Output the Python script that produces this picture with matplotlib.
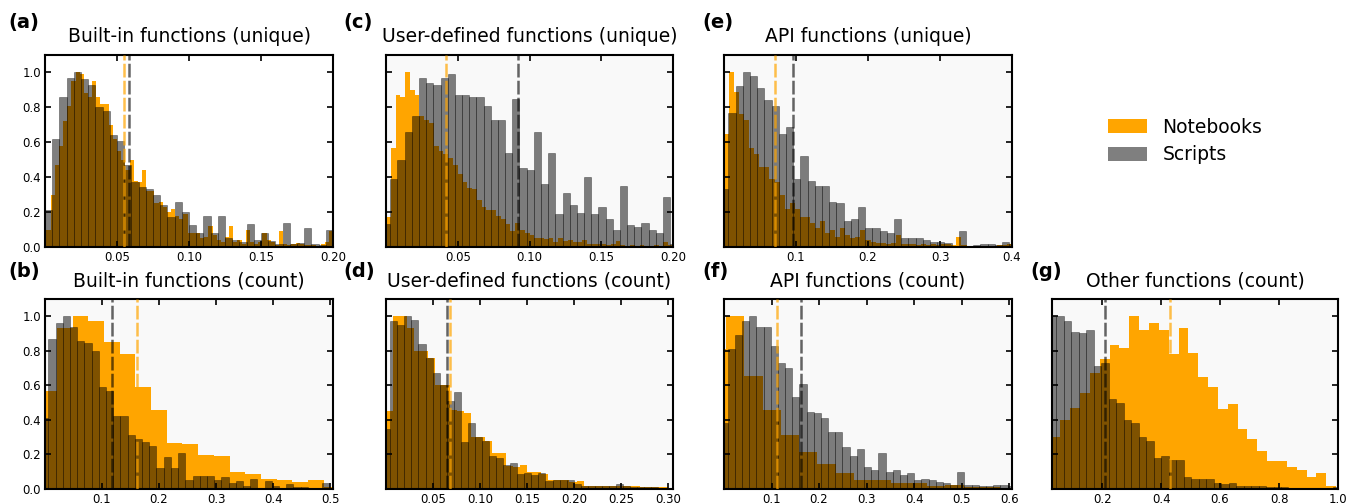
import numpy as np
import matplotlib
matplotlib.use("Agg")
import matplotlib.pyplot as plt
from matplotlib.patches import Patch

# normalised bin heights (max = 1); *_range = x span of the bins
# (a) Built-in functions (unique)
a_nb = [0.10, 0.30, 0.47, 0.58, 0.72, 0.81, 0.95, 1.0, 0.99, 0.88,
        0.86, 0.95, 0.86, 0.82, 0.82, 0.70, 0.62, 0.55, 0.50, 0.44,
        0.50, 0.38, 0.37, 0.44, 0.32, 0.32, 0.25, 0.26, 0.23, 0.20,
        0.22, 0.18, 0.16, 0.19, 0.08, 0.08, 0.08, 0.05, 0.06, 0.12,
        0.07, 0.04, 0.03, 0.06, 0.12, 0.03, 0.04, 0.02, 0.10, 0.03,
        0.02, 0.03, 0.08, 0.04, 0.03, 0.01, 0.09, 0.02, 0.01, 0.02,
        0.025, 0.02, 0.01, 0.01, 0.01, 0.0, 0.02, 0.03, 0.09]
a_nb_range = (0.001, 0.2)
a_sc = [0.21, 0.62, 0.86, 0.97, 1.0, 0.96, 0.93, 0.80, 0.78, 0.64,
        0.61, 0.47, 0.37, 0.345, 0.33, 0.30, 0.24, 0.17, 0.26, 0.20,
        0.125, 0.08, 0.18, 0.08, 0.18, 0.05, 0.04, 0.03, 0.13, 0.04,
        0.08, 0.035, 0.02, 0.14, 0.02, 0.025, 0.11, 0.02, 0.01, 0.10]
a_sc_range = (0.0, 0.2)
a_med = (0.0552, 0.0586)

# (c) User-defined functions (unique)
c_nb = [0.17, 0.57, 0.87, 0.86, 1.0, 0.90, 0.87, 0.75, 0.73, 0.71,
        0.58, 0.55, 0.53, 0.51, 0.47, 0.42, 0.37, 0.34, 0.33, 0.27,
        0.23, 0.21, 0.21, 0.18, 0.16, 0.13, 0.09, 0.14, 0.10, 0.08,
        0.07, 0.05, 0.05, 0.045, 0.05, 0.03, 0.05, 0.035, 0.04, 0.03,
        0.03, 0.04, 0.02, 0.02, 0.015, 0.02, 0.01, 0.015, 0.035, 0.01,
        0.005, 0.01, 0.005, 0.01, 0.0, 0.005, 0.01, 0.0, 0.03, 0.01]
c_nb_range = (0.0, 0.2)
c_sc = [0.13, 0.39, 0.50, 0.66, 0.75, 0.97, 0.94, 0.93, 0.97, 0.99,
        0.87, 0.87, 0.86, 0.86, 0.81, 0.73, 0.73, 0.54, 0.85, 0.45,
        0.44, 0.66, 0.36, 0.54, 0.19, 0.31, 0.24, 0.195, 0.40, 0.19,
        0.23, 0.16, 0.10, 0.35, 0.125, 0.115, 0.14, 0.10, 0.08, 0.285, 0.02]
c_sc_range = (-0.002, 0.203)
c_med = (0.042, 0.0922)

# (e) API functions (unique)
e_nb = [0.645, 1.0, 0.89, 0.76, 0.73, 0.57, 0.53, 0.46, 0.46, 0.39,
        0.37, 0.30, 0.22, 0.25, 0.22, 0.17, 0.17, 0.14, 0.11, 0.15,
        0.08, 0.10, 0.06, 0.11, 0.07, 0.05, 0.06, 0.10, 0.04, 0.03,
        0.025, 0.025, 0.02, 0.025, 0.07, 0.02, 0.02, 0.015, 0.01, 0.015,
        0.01, 0.02, 0.01, 0.02, 0.015, 0.01, 0.055, 0.01, 0.005, 0.005,
        0.005, 0.0, 0.005, 0.005, 0.01, 0.01, 0.015]
e_nb_range = (0.0, 0.4)
e_sc = [0.33, 0.77, 0.92, 1.0, 0.98, 0.91, 0.84, 0.81, 0.645, 0.69,
        0.39, 0.52, 0.38, 0.35, 0.35, 0.26, 0.25, 0.15, 0.16, 0.23,
        0.11, 0.11, 0.09, 0.08, 0.16, 0.05, 0.05, 0.05, 0.04, 0.03,
        0.03, 0.025, 0.0, 0.09, 0.0, 0.01, 0.02, 0.02, 0.01, 0.03, 0.02]
e_sc_range = (-0.004, 0.406)
e_med = (0.0707, 0.0962)

# (b) Built-in functions (count)
b_nb = [0.565, 0.93, 1.0, 0.97, 0.85, 0.78, 0.59, 0.455, 0.265, 0.26,
        0.195, 0.19, 0.10, 0.085, 0.06, 0.05, 0.04, 0.05, 0.01]
b_nb_range = (-0.0064, 0.516)
b_sc = [0.41, 0.87, 0.96, 1.0, 0.94, 0.855, 0.845, 0.80, 0.59, 0.57,
        0.42, 0.42, 0.315, 0.29, 0.275, 0.25, 0.12, 0.185, 0.12, 0.21,
        0.055, 0.075, 0.075, 0.075, 0.05, 0.07, 0.035, 0.045, 0.015, 0.06,
        0.005, 0.045, 0.02, 0.005, 0.03, 0.01, 0.01, 0.005, 0.0, 0.035]
b_sc_range = (-0.0068, 0.4988)
b_med = (0.161, 0.117)

# (d) User-defined functions (count)
d_nb = [0.45, 1.0, 1.0, 0.93, 0.80, 0.80, 0.76, 0.60, 0.60, 0.46,
        0.45, 0.44, 0.30, 0.30, 0.28, 0.21, 0.21, 0.135, 0.13, 0.14,
        0.10, 0.10, 0.085, 0.055, 0.055, 0.055, 0.04, 0.045, 0.02, 0.02,
        0.02, 0.02, 0.015, 0.02, 0.015, 0.015, 0.01, 0.01, 0.01, 0.01]
d_nb_range = (0.0, 0.3)
d_sc = [0.35, 0.975, 0.95, 1.0, 0.98, 0.84, 0.76, 0.67, 0.60, 0.51,
        0.56, 0.27, 0.385, 0.30, 0.28, 0.19, 0.18, 0.14, 0.15, 0.085,
        0.09, 0.08, 0.09, 0.045, 0.05, 0.05, 0.05, 0.03, 0.02, 0.02,
        0.015, 0.015, 0.015, 0.03, 0.015, 0.01, 0.01, 0.01, 0.01, 0.005, 0.005]
d_sc_range = (-0.003, 0.3045)
d_med = (0.0678, 0.0647)

# (f) API functions (count)
f_nb = [0.81, 1.0, 0.655, 0.46, 0.31, 0.215, 0.145, 0.095, 0.05, 0.05,
        0.035, 0.035, 0.02, 0.025, 0.01, 0.01, 0.005]
f_nb_range = (-0.0343, 0.620)
f_sc = [0.38, 0.81, 0.89, 0.975, 1.0, 0.94, 0.94, 0.83, 0.73, 0.70,
        0.53, 0.61, 0.445, 0.44, 0.41, 0.33, 0.33, 0.245, 0.19, 0.23,
        0.13, 0.11, 0.21, 0.10, 0.11, 0.08, 0.095, 0.055, 0.06, 0.05,
        0.04, 0.035, 0.025, 0.10, 0.025, 0.025, 0.02, 0.02, 0.025, 0.025, 0.02]
f_sc_range = (-0.0074, 0.6117)
f_med = (0.111, 0.162)

# (g) Other functions (count)
g_nb = [0.30, 0.40, 0.47, 0.555, 0.67, 0.75, 0.835, 0.815, 1.0, 0.92,
        0.96, 0.92, 0.78, 0.935, 0.79, 0.65, 0.59, 0.465, 0.49, 0.35,
        0.29, 0.22, 0.165, 0.16, 0.13, 0.11, 0.07, 0.095, 0.02]
g_nb_range = (0.025, 0.9936)
g_sc = [1.0, 1.0, 0.975, 0.91, 0.905, 0.92, 0.71, 0.73, 0.52, 0.50,
        0.40, 0.38, 0.30, 0.28, 0.18, 0.19, 0.17, 0.17, 0.07, 0.06,
        0.06, 0.06, 0.035, 0.03, 0.035, 0.02, 0.02, 0.02, 0.015, 0.01,
        0.01, 0.01, 0.005, 0.005, 0.005, 0.005, 0.005, 0.005, 0.01]
g_sc_range = (0.0193, 1.0099)
g_med = (0.43, 0.21)

W, H = 1354, 504
DASH = (0, (5.5, 1.3))


def draw_panel(ax, nb, nb_range, sc, sc_range, med, xlim, xticks, fmt, title, face):
    e_nb = np.linspace(nb_range[0], nb_range[1], len(nb) + 1)
    e_sc = np.linspace(sc_range[0], sc_range[1], len(sc) + 1)
    ax.set_facecolor(face)
    ax.bar(e_nb[:-1], nb, width=np.diff(e_nb), align="edge", color="orange", lw=0)
    ax.bar(e_sc[:-1], sc, width=np.diff(e_sc), align="edge", color="k",
           alpha=0.5, edgecolor="k", lw=0.45)
    ax.axvline(med[0], color="orange", alpha=0.7, ls=DASH, lw=1.8, zorder=5)
    ax.axvline(med[1], color="k", alpha=0.6, ls=DASH, lw=1.8, zorder=5)
    ax.set_xlim(*xlim)
    ax.set_ylim(0, 1.1)
    ax.set_xticks(xticks)
    ax.set_xticklabels([fmt % t for t in xticks])
    ax.set_yticks(np.arange(0, 1.01, 0.2))
    ax.set_title(title, fontsize=13.5, pad=9)
    ax.tick_params(direction="in", top=True, right=True, length=4, width=1.2,
                   labelsize=8.5, pad=3)
    for s in ax.spines.values():
        s.set_linewidth(1.5)


def px_axes(fig, left, top, right, bottom):
    return fig.add_axes([left / W, 1 - bottom / H, (right - left) / W, (bottom - top) / H])


fig = plt.figure(figsize=(W / 100, H / 100), dpi=100)

panels = [
    ("(a)", "Built-in functions (unique)", a_nb, a_nb_range, a_sc, a_sc_range, a_med,
     (0.0, 0.2), [0.05, 0.10, 0.15, 0.20], "%.2f", (45, 55, 333, 247), True, "white"),
    ("(c)", "User-defined functions (unique)", c_nb, c_nb_range, c_sc, c_sc_range, c_med,
     (0.0, 0.2), [0.05, 0.10, 0.15, 0.20], "%.2f", (386, 55, 673, 247), False, "#f9f9f9"),
    ("(e)", "API functions (unique)", e_nb, e_nb_range, e_sc, e_sc_range, e_med,
     (0.0, 0.4), [0.1, 0.2, 0.3, 0.4], "%.1f", (724, 55, 1012, 247), False, "#f9f9f9"),
    ("(b)", "Built-in functions (count)", b_nb, b_nb_range, b_sc, b_sc_range, b_med,
     (0.0, 0.505), [0.1, 0.2, 0.3, 0.4, 0.5], "%.1f", (45, 299, 333, 489), True, "#f9f9f9"),
    ("(d)", "User-defined functions (count)", d_nb, d_nb_range, d_sc, d_sc_range, d_med,
     (0.0, 0.305), [0.05, 0.10, 0.15, 0.20, 0.25, 0.30], "%.2f", (386, 299, 673, 489), False, "#f9f9f9"),
    ("(f)", "API functions (count)", f_nb, f_nb_range, f_sc, f_sc_range, f_med,
     (0.0, 0.606), [0.1, 0.2, 0.3, 0.4, 0.5, 0.6], "%.1f", (724, 299, 1012, 489), False, "#f9f9f9"),
    ("(g)", "Other functions (count)", g_nb, g_nb_range, g_sc, g_sc_range, g_med,
     (0.03, 1.0), [0.2, 0.4, 0.6, 0.8, 1.0], "%.1f", (1052, 299, 1338, 489), False, "#f9f9f9"),
]

for tag, title, nb, nbr, sc, scr, med, xlim, xt, fmt, box, ylab, face in panels:
    ax = px_axes(fig, *box)
    draw_panel(ax, nb, nbr, sc, scr, med, xlim, xt, fmt, title, face)
    if ylab:
        ax.set_yticklabels(["%.1f" % v for v in np.arange(0, 1.01, 0.2)])
    else:
        ax.set_yticklabels([])
    lx = {45: 8, 386: 343, 724: 702, 1052: 1030}[box[0]]
    ly = 13 if box[1] < 100 else 262
    fig.text(lx / W, 1 - ly / H, tag, fontsize=14, fontweight="bold", va="top", ha="left")

handles = [Patch(facecolor="orange"), Patch(facecolor="k", alpha=0.5)]
fig.legend(handles, ["Notebooks", "Scripts"], loc="upper left",
           bbox_to_anchor=(1091 / W, 1 - 101 / H), frameon=False, fontsize=13.5,
           handlelength=2.1, handleheight=0.75, handletextpad=0.8, labelspacing=0.45)

fig.savefig("out.png", dpi=100)
